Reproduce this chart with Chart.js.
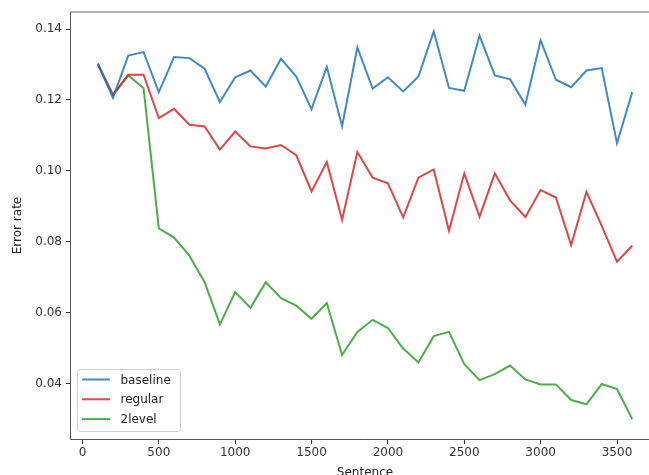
<!DOCTYPE html>
<html>
<head>
<meta charset="utf-8">
<script src="https://cdn.jsdelivr.net/npm/chart.js@4.4.1/dist/chart.umd.min.js"></script>
<style>
  html, body { margin: 0; padding: 0; background: #fff; overflow: hidden; }
  #wrap { width: 649px; height: 475px; overflow: hidden; position: relative; }
  #chart { display: block; }
</style>
</head>
<body>
<div id="wrap"><canvas id="chart" width="670" height="490"></canvas></div>
<script>
// sentence counts on the x axis
const sentences = [100, 200, 300, 400, 500, 600, 700, 800, 900, 1000, 1100, 1200,
  1300, 1400, 1500, 1600, 1700, 1800, 1900, 2000, 2100, 2200, 2300, 2400,
  2500, 2600, 2700, 2800, 2900, 3000, 3100, 3200, 3300, 3400, 3500, 3600];

const baseline = [0.1302, 0.1206, 0.1325, 0.1335, 0.1222, 0.1321, 0.1318, 0.1288, 0.1194, 0.1264, 0.1283, 0.1238,
  0.1316, 0.1266, 0.1174, 0.1293, 0.1126, 0.1348, 0.1232, 0.1264, 0.1224, 0.1266, 0.1393, 0.1234,
  0.1226, 0.1381, 0.1269, 0.1258, 0.1187, 0.1368, 0.1257, 0.1236, 0.1283, 0.1290, 0.1078, 0.1222];

const regular = [0.1302, 0.1215, 0.1271, 0.1271, 0.1149, 0.1175, 0.1130, 0.1125, 0.1060, 0.1111, 0.1069, 0.1063,
  0.1073, 0.1044, 0.0942, 0.1025, 0.0862, 0.1053, 0.0981, 0.0965, 0.0869, 0.0981, 0.1004, 0.0831,
  0.0993, 0.0871, 0.0993, 0.0917, 0.0870, 0.0946, 0.0925, 0.0791, 0.0941, 0.0845, 0.0744, 0.0789];

const twoLevel = [0.1302, 0.1213, 0.1269, 0.1234, 0.0838, 0.0812, 0.0761, 0.0686, 0.0567, 0.0658, 0.0614, 0.0686,
  0.0641, 0.0620, 0.0583, 0.0627, 0.0481, 0.0546, 0.0580, 0.0557, 0.0499, 0.0460, 0.0534, 0.0546,
  0.0455, 0.0410, 0.0427, 0.0451, 0.0412, 0.0398, 0.0398, 0.0354, 0.0342, 0.0399, 0.0385, 0.0300];

const seriesNames = ['baseline', 'regular', '2level'];
const xTicks = [0, 500, 1000, 1500, 2000, 2500, 3000, 3500];
const yTicks = [0.04, 0.06, 0.08, 0.10, 0.12, 0.14];

const COLORS = ['rgba(31,119,180,0.85)', 'rgba(214,39,40,0.85)', 'rgba(44,160,44,0.85)'];

Chart.defaults.font.family = "'DejaVu Sans', sans-serif";
Chart.defaults.font.size = 12;
Chart.defaults.color = '#333';

function toPoints(values) {
  return values.map((v, i) => ({ x: sentences[i], y: v }));
}

const datasets = [baseline, regular, twoLevel].map((vals, i) => ({
  label: seriesNames[i],
  data: toPoints(vals),
  borderColor: COLORS[i],
  backgroundColor: COLORS[i],
  borderWidth: 2,
  pointRadius: 0,
  tension: 0,
  fill: false
}));

// axes spines: left, bottom and top (the right one falls outside the picture)
const framePlugin = {
  id: 'frame',
  afterDatasetsDraw(chart) {
    const { ctx, chartArea: a } = chart;
    const l = Math.round(a.left) - 0.5;
    const t = Math.round(a.top);
    const b = Math.round(a.bottom) + 0.5;
    ctx.save();
    ctx.lineWidth = 1;
    ctx.strokeStyle = '#555';
    ctx.beginPath();
    ctx.moveTo(l, t);
    ctx.lineTo(l, b);
    ctx.lineTo(a.right, b);
    ctx.stroke();
    ctx.strokeStyle = '#666';
    ctx.beginPath();
    ctx.moveTo(l, t);
    ctx.lineTo(a.right, t);
    ctx.stroke();
    ctx.restore();
  }
};

// matplotlib-like legend in the lower left corner of the axes
const legendPlugin = {
  id: 'boxLegend',
  afterDraw(chart) {
    const { ctx, chartArea: a } = chart;
    const x0 = a.left + 6.5, y0 = a.bottom - 69.5, w = 103, h = 62, r = 3;
    ctx.save();
    ctx.fillStyle = 'rgba(255,255,255,0.85)';
    ctx.strokeStyle = '#d0d0d0';
    ctx.lineWidth = 1;
    ctx.beginPath();
    ctx.roundRect(x0, y0, w, h, r);
    ctx.fill();
    ctx.stroke();
    ctx.font = "12px 'DejaVu Sans', sans-serif";
    ctx.textBaseline = 'middle';
    ctx.textAlign = 'left';
    chart.data.datasets.forEach((ds, i) => {
      const y = y0 + 10 + i * 19.8;
      ctx.strokeStyle = ds.borderColor;
      ctx.lineWidth = 2;
      ctx.beginPath();
      ctx.moveTo(x0 + 4.5, y);
      ctx.lineTo(x0 + 32.5, y);
      ctx.stroke();
      ctx.fillStyle = '#222';
      ctx.fillText(ds.label, x0 + 43, y + 1);
    });
    ctx.restore();
  }
};

new Chart(document.getElementById('chart'), {
  type: 'line',
  data: { datasets },
  options: {
    responsive: false,
    animation: false,
    layout: { padding: { top: 12, right: 11, left: 0, bottom: 0 } },
    plugins: { legend: { display: false }, tooltip: { enabled: false } },
    scales: {
      x: {
        type: 'linear',
        min: -75,
        max: 3775,
        afterBuildTicks: s => { s.ticks = xTicks.map(v => ({ value: v })); },
        afterFit: s => { s.height = 51; },
        grid: { display: true, drawOnChartArea: false, drawTicks: true, tickLength: 5, color: '#333' },
        border: { display: false },
        ticks: { padding: 2, color: '#333', callback: v => String(v) },
        title: { display: true, text: 'Sentence', color: '#222', padding: { top: 0, bottom: 10 } }
      },
      y: {
        type: 'linear',
        min: 0.0244,
        max: 0.1448,
        afterBuildTicks: s => { s.ticks = yTicks.map(v => ({ value: v })); },
        afterFit: s => { s.width = 71; },
        grid: { display: true, drawOnChartArea: false, drawTicks: true, tickLength: 5, color: '#333' },
        border: { display: false },
        ticks: { padding: 4, color: '#333', callback: v => v.toFixed(2) },
        title: { display: true, text: 'Error rate', color: '#222', padding: { top: 11, bottom: 0 } }
      }
    }
  },
  plugins: [framePlugin, legendPlugin]
});
</script>
</body>
</html>
